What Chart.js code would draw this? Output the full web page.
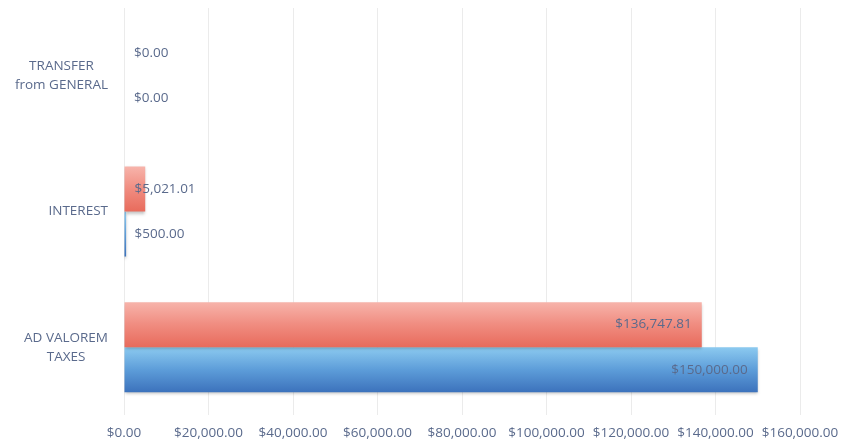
<!DOCTYPE html>
<html>
<head>
<meta charset="utf-8">
<script src="https://cdn.jsdelivr.net/npm/chart.js@4"></script>
<style>
  html, body { margin: 0; padding: 0; background: #fff; }
  #wrap { width: 854px; height: 445px; }
</style>
</head>
<body>
<div id="wrap"><canvas id="chart"></canvas></div>
<script>
const categories = [['TRANSFER', 'from GENERAL'], ['INTEREST'], ['AD VALOREM', 'TAXES']];
const actualValues = [0, 5021.01, 136747.81];
const budgetValues = [0, 500, 150000];
const xMin = 0;
const xMax = 160000;
const xStep = 20000;

const textColor = '#5a6a8c';
const fontFamily = '"Open Sans", Lato, sans-serif';
const fontSize = 13.5;

const money = v => '$' + Number(v).toLocaleString('en-US', { minimumFractionDigits: 2, maximumFractionDigits: 2 });

const catPct = 0.664;

// vertical gradient per bar, worked out from the category scale
function barGradient(stops, slot) {
    return (ctx) => {
        const chart = ctx.chart;
        if (!chart.chartArea || ctx.dataIndex === undefined) return stops[1];
        const y = chart.scales.y;
        const step = Math.abs(y.getPixelForValue(1) - y.getPixelForValue(0));
        const thick = step * catPct / 2;
        const center = y.getPixelForValue(ctx.dataIndex);
        const top = slot === 0 ? center - thick : center;
        const g = chart.ctx.createLinearGradient(0, top, 0, top + thick);
        g.addColorStop(0, stops[0]);
        g.addColorStop(0.5, stops[1]);
        g.addColorStop(1, stops[2]);
        return g;
    };
}

// category labels: block right-aligned next to the plot, lines centred inside it
const categoryLabels = {
    id: 'categoryLabels',
    afterDraw(chart) {
        const c = chart.ctx;
        const y = chart.scales.y;
        const lineH = 19;
        c.save();
        c.font = fontSize + 'px ' + fontFamily;
        c.fillStyle = textColor;
        c.textAlign = 'center';
        c.textBaseline = 'middle';
        categories.forEach((lines, i) => {
            const w = Math.max(...lines.map(l => c.measureText(l).width));
            const cx = chart.chartArea.left - 16 - w / 2;
            const cy = y.getPixelForValue(i);
            lines.forEach((l, k) => {
                c.fillText(l, cx, cy + (k - (lines.length - 1) / 2) * lineH);
            });
        });
        c.restore();
    }
};

const valueLabels = {
    id: 'valueLabels',
    afterDatasetsDraw(chart) {
        const c = chart.ctx;
        c.save();
        c.font = fontSize + 'px ' + fontFamily;
        c.fillStyle = textColor;
        c.textBaseline = 'middle';
        chart.data.datasets.forEach((ds, di) => {
            chart.getDatasetMeta(di).data.forEach((bar, i) => {
                const txt = money(ds.data[i]);
                const w = c.measureText(txt).width;
                const len = bar.x - bar.base;
                if (len > w + 24) {
                    c.textAlign = 'right';
                    c.fillText(txt, bar.x - 10, bar.y);
                } else {
                    c.textAlign = 'left';
                    c.fillText(txt, bar.base + 10, bar.y);
                }
            });
        });
        c.restore();
    }
};

const barShadow = {
    id: 'barShadow',
    beforeDatasetsDraw(chart) {
        const c = chart.ctx;
        c.save();
        c.shadowColor = 'rgba(0,0,0,0.25)';
        c.shadowBlur = 3;
        c.shadowOffsetY = 2;
    },
    afterDatasetsDraw(chart) {
        chart.ctx.restore();
    }
};

new Chart(document.getElementById('chart'), {
    type: 'bar',
    data: {
        labels: categories.map(l => l.join(' ')),
        datasets: [
            {
                label: 'Actual',
                data: actualValues,
                backgroundColor: barGradient(['#f7b4ab', '#f08c80', '#e86b5c'], 0),
                categoryPercentage: catPct,
                barPercentage: 1
            },
            {
                label: 'Budget',
                data: budgetValues,
                backgroundColor: barGradient(['#8ccaf0', '#5d9dd9', '#3c72bc'], 1),
                categoryPercentage: catPct,
                barPercentage: 1
            }
        ]
    },
    options: {
        indexAxis: 'y',
        responsive: true,
        maintainAspectRatio: false,
        animation: false,
        layout: { padding: { top: 8, right: 54, bottom: 0, left: 0 } },
        plugins: {
            legend: { display: false },
            tooltip: { enabled: false }
        },
        scales: {
            x: {
                min: xMin,
                max: xMax,
                afterFit: s => { s.height = 30; },
                ticks: {
                    stepSize: xStep,
                    color: textColor,
                    font: { family: fontFamily, size: fontSize },
                    maxRotation: 0,
                    padding: 10,
                    callback: v => money(v)
                },
                grid: { color: '#ebebeb', drawTicks: false },
                border: { display: false }
            },
            y: {
                afterFit: s => {
                    s.width = 124;
                    s.paddingTop = 0;
                    s.paddingBottom = 0;
                },
                ticks: { display: false },
                grid: { display: false, drawTicks: false },
                border: { display: false }
            }
        }
    },
    plugins: [barShadow, valueLabels, categoryLabels]
});
</script>
</body>
</html>
